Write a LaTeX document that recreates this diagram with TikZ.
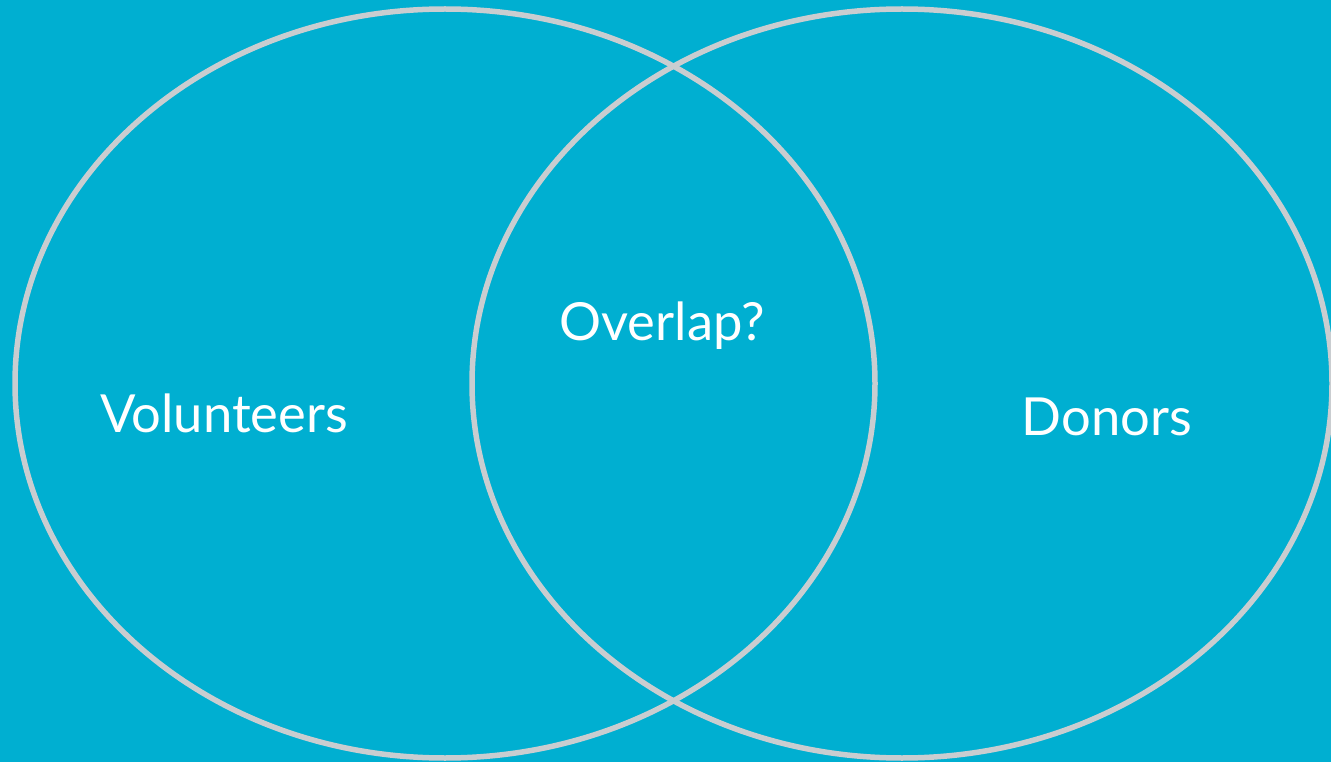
\documentclass[tikz,border=0pt]{standalone}
\usepackage{fontspec}
\setmainfont{Lato}
\usepackage{xcolor}
\definecolor{bgteal}{RGB}{0,175,209}
\definecolor{ringgray}{RGB}{201,205,208}

\begin{document}
\begin{tikzpicture}[
x=1pt, y=-1pt,
ring/.style={draw=ringgray, line width=5.5pt},
setlabel/.style={text=white, anchor=base, inner sep=0pt, font=\fontsize{52.5}{60}\selectfont}
]
\fill[bgteal] (0,0) rectangle (1331,762);
\useasboundingbox (0,0) rectangle (1331,762);
\clip (0,0) rectangle (1331,762);

% the two sets
\coordinate (left) at (445,383.5);
\coordinate (right) at (902,383.5);
\draw[ring] (left) ellipse [x radius=430, y radius=374.5];
\draw[ring] (right) ellipse [x radius=430, y radius=374.5];

\node[setlabel] (vol) at (224,432) {Volunteers};
\node[setlabel] (mid) at (662,340) {Overlap?};
\node[setlabel] (don) at (1107,435) {Donors};
\end{tikzpicture}
\end{document}
